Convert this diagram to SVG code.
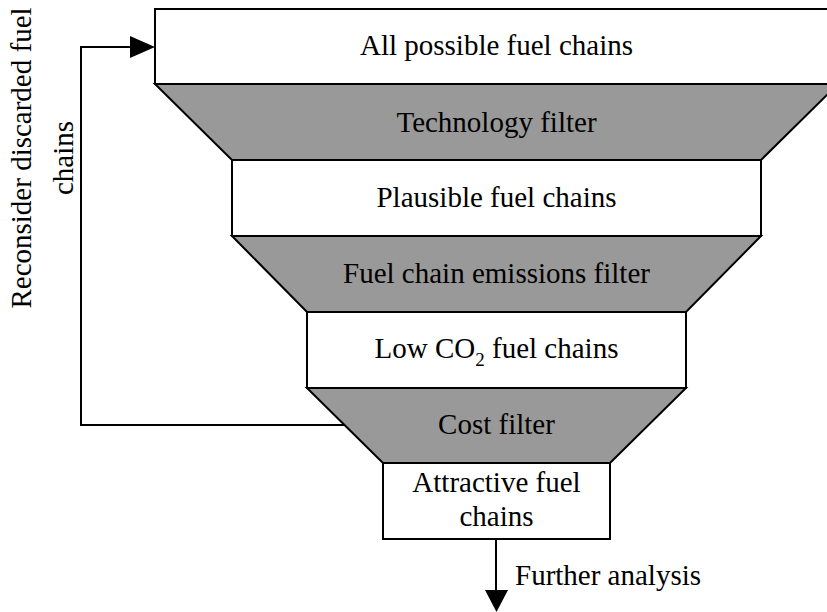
<svg xmlns="http://www.w3.org/2000/svg" width="827" height="612" viewBox="0 0 827 612">
<style>
.box{fill:#ffffff;stroke:#000;stroke-width:2}
.flt{fill:#999999;stroke:#000;stroke-width:2}
.t{font-family:"Liberation Serif","Times New Roman",serif;font-size:29px;fill:#000;text-anchor:middle}
.ln{fill:none;stroke:#000;stroke-width:2}
</style>
<rect width="827" height="612" fill="#ffffff"/>
<g id="all-chains"><rect class="box" x="155" y="9" width="690" height="75"/><text class="t" x="496.5" y="55">All possible fuel chains</text></g>
<g id="technology-filter"><polygon class="flt" points="155,84 838,84 761,160 232,160"/><text class="t" x="496.5" y="132">Technology filter</text></g>
<g id="plausible-chains"><rect class="box" x="232" y="160" width="529" height="76"/><text class="t" x="496.5" y="207">Plausible fuel chains</text></g>
<g id="emissions-filter"><polygon class="flt" points="232,236 761,236 686,312 307,312"/><text class="t" x="496.5" y="283">Fuel chain emissions filter</text></g>
<g id="low-co2-chains"><rect class="box" x="307" y="312" width="379" height="76"/><text class="t" x="496.5" y="358">Low CO<tspan font-size="19" dy="8">2</tspan><tspan dy="-8"> fuel chains</tspan></text></g>
<g id="cost-filter"><polygon class="flt" points="307,388 686,388 610,463 383,463"/><text class="t" x="496.5" y="434">Cost filter</text></g>
<g id="attractive-chains"><rect class="box" x="383" y="463" width="227" height="76"/><text class="t" x="496.5" y="492">Attractive fuel</text><text class="t" x="496.5" y="526">chains</text></g>
<g id="connectors">
<polyline class="ln" points="345,425 81,425 81,47 131,47"/>
<polygon points="130,36 155,47 130,58" fill="#000"/>
<line class="ln" x1="496" y1="539" x2="496" y2="591"/>
<polygon points="485,590 508,590 496.5,612" fill="#000"/>
<text class="t" x="515" y="585" style="text-anchor:start">Further analysis</text>
<text class="t" transform="translate(31,158) rotate(-90)">Reconsider discarded fuel</text>
<text class="t" transform="translate(73,158) rotate(-90)">chains</text>
</g>
</svg>
